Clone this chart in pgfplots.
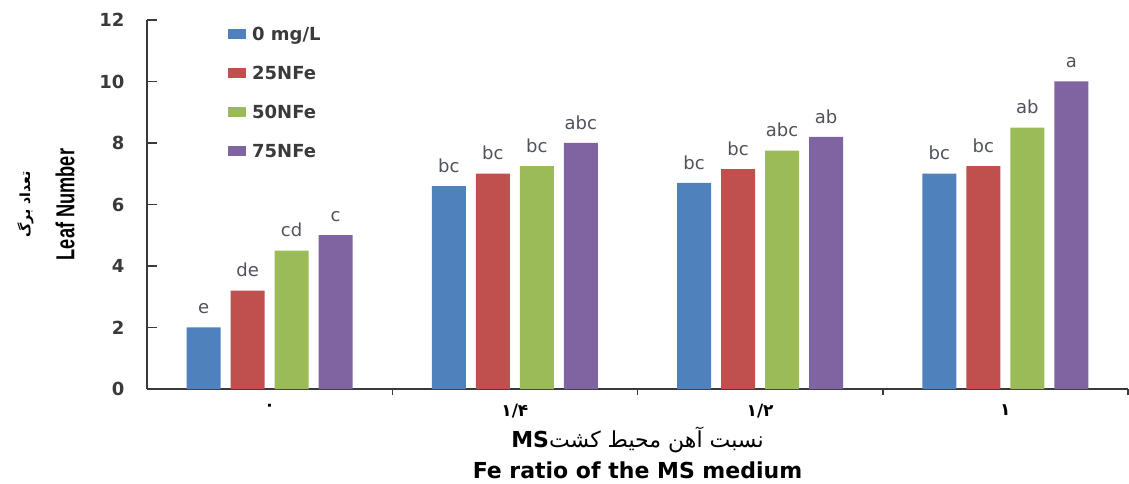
\documentclass[border=0pt]{standalone}
\usepackage{pgfplots}
\pgfplotsset{compat=1.18}
\usepackage{graphicx}
\usepackage{fontspec}
\setmainfont{DejaVu Sans}
\newfontfamily\arabicfont[Script=Arabic]{DejaVu Sans}
\newfontfamily\lsans{Liberation Sans}
\TeXXeTstate=1
\definecolor{sBlue}{HTML}{4F81BD}
\definecolor{sRed}{HTML}{C0504D}
\definecolor{sGreen}{HTML}{9BBB59}
\definecolor{sPurple}{HTML}{8064A2}
\definecolor{lblgray}{HTML}{50535C}
\definecolor{axgray}{HTML}{3A3A3A}
\newcommand\fs[1]{\fontsize{#1}{#1}\selectfont}

\begin{document}
\begin{tikzpicture}
\path[use as bounding box] (-147pt,-95pt) rectangle (982pt,389pt);
\begin{axis}[
  at={(0,0)}, anchor=south west,
  scale only axis, width=981pt, height=369pt,
  xmin=-0.5, xmax=3.5, ymin=0, ymax=12,
  clip=false,
  axis lines*=left,
  tick align=inside,
  axis line style={axgray, line width=1.5pt},
  ybar=10pt, bar width=34pt,
  ytick={0,2,...,12},
  ytick style={axgray, line width=1.5pt},
  major tick length=10pt,
  /pgf/number format/assume math mode=true,
  yticklabel style={font=\fs{18}\bfseries, text=axgray, xshift=-19pt},
  xtick={0,1,2,3},
  xticklabels={{۰},{۱/۴},{۱/۲},{۱}},
  xtick style={draw=none},
  xticklabel style={font=\fs{17}\arabicfont\bfseries, text=black, yshift=-2pt},
  extra x ticks={0.5,1.5,2.5,3.5},
  extra x tick labels={},
  extra x tick style={xtick style={draw=axgray, line width=1.5pt}, major tick length=6pt},
  point meta=explicit symbolic,
  nodes near coords,
  nodes near coords style={font=\fs{18}, text=lblgray, yshift=10pt},
  legend style={at={(0.0825,0.9847)}, anchor=north west, draw=none, fill=none,
    font=\fs{18}\bfseries, text=axgray, row sep=22pt, column sep=4pt, inner sep=0pt,
    nodes={text depth=0pt, text height=13pt}},
  legend cell align=left,
  legend image code/.code={\fill[#1] (0pt,-5pt) rectangle (18pt,5pt);},
]
\addplot[fill=sBlue, draw=none] coordinates {(0,2.0)[e] (1,6.6)[bc] (2,6.7)[bc] (3,7.0)[bc]};
\addplot[fill=sRed, draw=none] coordinates {(0,3.2)[de] (1,7.0)[bc] (2,7.15)[bc] (3,7.25)[bc]};
\addplot[fill=sGreen, draw=none] coordinates {(0,4.5)[cd] (1,7.25)[bc] (2,7.75)[abc] (3,8.5)[ab]};
\addplot[fill=sPurple, draw=none] coordinates {(0,5.0)[c] (1,8.0)[abc] (2,8.2)[ab] (3,10.0)[a]};
\legend{0 mg/L, 25NFe, 50NFe, 75NFe}

% axis titles
\node[rotate=90, font=\fs{26}\lsans\bfseries, text=black] at (rel axis cs:-0.0835,0.5)
  {\scalebox{0.7}[1]{Leaf Number}};
\node[rotate=90, font=\fs{14}\arabicfont\bfseries, text=black] at (rel axis cs:-0.124,0.5)
  {\beginR تعداد برگ\endR};
\node[font=\fs{22}\arabicfont, text=black] at (rel axis cs:0.5,-0.138)
  {\beginR نسبت آهن محیط کشت\beginL\bfseries MS\endL\endR};
\node[font=\fs{22}\bfseries, text=black, inner sep=0pt] at (rel axis cs:0.5,-0.221)
  {Fe ratio of the MS medium};
\end{axis}
\end{tikzpicture}
\end{document}
